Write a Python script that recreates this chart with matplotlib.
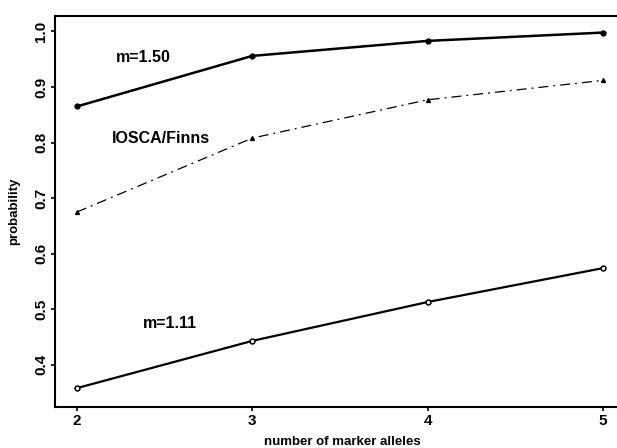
import matplotlib
matplotlib.use('Agg')
import matplotlib.pyplot as plt

alleles = [2, 3, 4, 5]
m150 = [0.865, 0.956, 0.983, 0.998]
iosca = [0.675, 0.808, 0.877, 0.912]
m111 = [0.358, 0.443, 0.513, 0.574]

plt.rcParams['font.family'] = 'Liberation Sans'
plt.rcParams['font.weight'] = 'bold'

fig = plt.figure(figsize=(6.17, 4.48), dpi=100)
ax = fig.add_axes([0.0891, 0.0915, 0.93, 0.873])

ax.plot(alleles, m150, color='black', lw=1.8, marker='o', ms=3.5)
ax.plot(alleles, iosca, color='black', lw=0.9, linestyle=(0, (8, 4, 1.5, 4)),
        marker='^', ms=2.8)
ax.plot(alleles, m111, color='black', lw=1.6, marker='o', ms=3.5,
        markerfacecolor='white', markeredgewidth=1.1)

ax.text(2.38, 0.953, 'm=1.50', fontsize=11.5, fontweight='bold', ha='center', va='center')
ax.text(2.48, 0.808, 'IOSCA/Finns', fontsize=11.5, fontweight='bold', ha='center', va='center')
ax.text(2.53, 0.475, 'm=1.11', fontsize=11.5, fontweight='bold', ha='center', va='center')

ax.set_xlim(1.875, 5.147)
ax.set_ylim(0.324, 1.028)
ax.set_xticks(alleles)
ax.set_yticks([0.4, 0.5, 0.6, 0.7, 0.8, 0.9, 1.0])
ax.set_yticklabels(['0.4', '0.5', '0.6', '0.7', '0.8', '0.9', '1.0'],
                   rotation=90, va='center')
ax.tick_params(axis='both', direction='out', length=3, width=1.2, labelsize=11)
ax.tick_params(axis='y', pad=2)
ax.tick_params(axis='x', pad=2)
for s in ax.spines.values():
    s.set_linewidth(1.5)
ax.spines['right'].set_visible(False)

ax.set_xlabel('number of marker alleles', fontsize=9.5, fontweight='bold', labelpad=6)
ax.set_ylabel('probability', fontsize=9.5, fontweight='bold', labelpad=10)

fig.savefig('out.png', dpi=100)
